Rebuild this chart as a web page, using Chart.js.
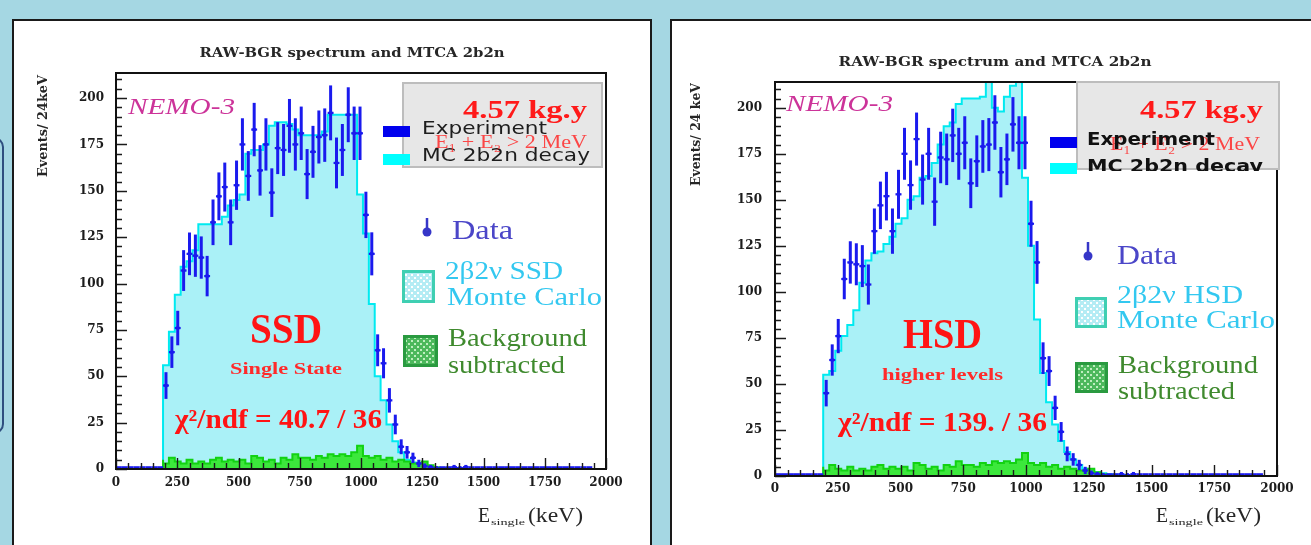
<!DOCTYPE html>
<html><head><meta charset="utf-8">
<script src="https://cdn.jsdelivr.net/npm/chart.js@4.4.0/dist/chart.umd.min.js"></script>
<style>
html,body{margin:0;padding:0;width:1311px;height:545px;overflow:hidden;background:#a5d7e3;}
.card{position:absolute;background:#fff;border:2px solid #1a1a1a;box-sizing:border-box;}
#c1{left:12px;top:19px;width:640px;height:560px;}
#c2{left:670px;top:19px;width:660px;height:560px;}
.side{position:absolute;left:-20px;top:137px;width:24px;height:297px;border:2px solid #2f4f7f;border-radius:10px;box-sizing:border-box;}
canvas{position:absolute;}
#cv1{left:14px;top:21px;}
#cv2{left:672px;top:22px;}
</style></head><body>
<div class="side"></div>
<div class="card" id="c1"></div>
<div class="card" id="c2"></div>
<canvas id="cv1" width="634" height="524"></canvas>
<canvas id="cv2" width="639" height="523"></canvas>
<script>
// ---------- data (bins of 24 keV starting at 0 keV) ----------
const BIN_WIDTH = 24;
const binLowEdges = Array.from({length: 83}, (_, i) => i * BIN_WIDTH);
const xTickValues = [0, 250, 500, 750, 1000, 1250, 1500, 1750, 2000];
const yTickValues = [0, 25, 50, 75, 100, 125, 150, 175, 200];

// Experiment (background subtracted data), events per bin
const dataCounts = [
 0,0,0,0,0,0,0,0,
 45,63,76,107,116,115,114,104,133,147,
 152,133,153,175,158,183,161,175,149,173,
 172,185,175,181,159,171,179,180,192,165,
 172,191,181,181,137,116,64,57,37,24,
 12,9,6,3,1.5,1,0.5,0,0,1,
 0.5,1,0,0,0,0,0,0,0,0,
 0,0,0,0,0,0,0,0,0,0,
 0,0,0];
const dataErrors = [
 0,0,0,0,0,0,0,0,
 7.2,8.5,9.3,11,11.5,11.4,11.4,10.9,12.3,12.9,
 13.2,12.3,13.3,14.1,13.4,14.4,13.6,14.1,13.1,14.0,
 14.0,14.5,14.1,14.4,13.5,14.0,14.3,14.4,14.8,13.7,
 14.0,14.8,14.4,14.4,12.5,11.6,8.6,8.1,6.6,5.3,
 4.0,3.4,2.8,2.0,1.5,1.2,0.9,0,0,1.2,
 0.9,1.2,0,0,0,0,0,0,0,0,
 0,0,0,0,0,0,0,0,0,0,
 0,0,0];
// Monte Carlo 2b2n, single state dominance
const mcSSD = [
 0,0,0,0,0,0,0,0,
 40,56,74,94,109,112,118,132,132,132,
 132,136,142,145,148,170,172,172,175,185,
 187,187,186,183,180,180,180,180,182,191,
 191,191,191,191,148,127,89,50,37,24,
 15,9,5,3.5,2.5,1.5,1,0.6,0.4,0.2,
 0.1,0,0,0,0,0,0,0,0,0,
 0,0,0,0,0,0,0,0,0,0,
 0,0,0];
// Monte Carlo 2b2n, higher state dominance
const mcHSD = [
 0,0,0,0,0,0,0,0,
 30,55,57,68,76,82,90,105,117,121,
 122,126,130,137,140,150,152,162,163,170,
 180,190,192,202,205,205,205,206,216,200,
 198,206,212,216,162,125,85,56,40,28,
 19,13,9,6,4,3,2,1.5,1,0.7,
 0.5,0.3,0,0,0,0,0,0,0,0,
 0,0,0,0,0,0,0,0,0,0,
 0,0,0];
// subtracted background
const background = [
 0,0,0,0,0,0,0,0,
 5,3,6,4,3,5,3,4,3,5,
 6,4,5,4,5,3,7,6,4,5,
 3,6,5,8,6,6,5,7,6,8,
 7,8,7,9,12.5,7,6,7,5,6,
 4,5,4,3,3,4,2,1,0.5,0,
 0,0,0,0,0,0,0,0,0,0,
 0,0,0,0,0,0,0,0,0,0,
 0,0,0];

// ---------- helpers ----------
function histPoints(vals){
  const first = vals.findIndex(v => v > 0);
  let last = vals.length - 1; while (last > 0 && vals[last] <= 0) last--;
  const pts = [{x: binLowEdges[first], y: 0}];
  for (let i = first; i <= last; i++) pts.push({x: binLowEdges[i], y: vals[i]});
  pts.push({x: binLowEdges[last] + BIN_WIDTH, y: 0});
  return pts;
}
function makePattern(ctx, bg, dot){
  const c = document.createElement('canvas'); c.width = c.height = 6;
  const g = c.getContext('2d');
  g.fillStyle = bg; g.fillRect(0,0,6,6);
  g.fillStyle = dot; g.fillRect(1,1,2,2); g.fillRect(4,4,2,2);
  return ctx.createPattern(c, 'repeat');
}
const DATA_COLOR = '#1a1aee';

const hepPlugin = {
  id: 'hep',
  afterDatasetsDraw(chart, args, o){
    const {ctx, chartArea: a, scales: {x, y}} = chart;
    ctx.save();
    ctx.beginPath(); ctx.rect(a.left, a.top - 1, a.width, a.height + 1); ctx.clip();
    chart.data.datasets.forEach(ds => {
      if (!ds.errors) return;
      ctx.strokeStyle = DATA_COLOR;
      ds.data.forEach((p, i) => {
        const e = ds.errors[i];
        const yc = p.y > 0 ? y.getPixelForValue(p.y) : a.bottom - 1.5;
        ctx.lineWidth = p.y > 0 ? 2.2 : 2.6;
        ctx.beginPath();
        ctx.moveTo(x.getPixelForValue(p.x - BIN_WIDTH/2), yc);
        ctx.lineTo(x.getPixelForValue(p.x + BIN_WIDTH/2), yc);
        ctx.stroke();
        if (e > 0) {
          ctx.lineWidth = 3;
          ctx.beginPath();
          ctx.moveTo(x.getPixelForValue(p.x), y.getPixelForValue(p.y - e));
          ctx.lineTo(x.getPixelForValue(p.x), y.getPixelForValue(p.y + e));
          ctx.stroke();
        }
      });
    });
    ctx.restore();
    // ticks (inward, ROOT style) and frame
    ctx.save();
    ctx.strokeStyle = '#1a1a1a'; ctx.lineWidth = 1.4;
    ctx.beginPath();
    for (let v = 0; v <= 2000; v += 50) {
      const px = Math.round(x.getPixelForValue(v)) + 0.5;
      const len = (v % 250 === 0) ? 11 : 6;
      ctx.moveTo(px, a.bottom); ctx.lineTo(px, a.bottom - len);
    }
    for (let v = 0; v <= o.yMax; v += 5) {
      const py = Math.round(y.getPixelForValue(v)) + 0.5;
      const len = (v % 25 === 0) ? 11 : 6;
      ctx.moveTo(a.left, py); ctx.lineTo(a.left + len, py);
    }
    ctx.stroke();
    ctx.lineWidth = 2; ctx.strokeStyle = '#111';
    ctx.strokeRect(a.left, a.top, a.width, a.height);
    ctx.restore();
  },
  afterDraw(chart, args, o){
    const ctx = chart.ctx; const ox = o.ox, oy = o.oy;
    o.ops.forEach(op => {
      ctx.save();
      if (op.k === 'rect') {
        ctx.fillStyle = op.fill; ctx.fillRect(op.x - ox, op.y - oy, op.w, op.h);
        if (op.stroke) { ctx.strokeStyle = op.stroke; ctx.lineWidth = op.lw || 2; ctx.strokeRect(op.x - ox, op.y - oy, op.w, op.h); }
      } else if (op.k === 'pbox') {
        ctx.fillStyle = makePattern(ctx, op.bg, op.dot);
        ctx.fillRect(op.x - ox, op.y - oy, op.w, op.h);
        ctx.strokeStyle = op.stroke; ctx.lineWidth = 3;
        ctx.strokeRect(op.x - ox + 1.5, op.y - oy + 1.5, op.w - 3, op.h - 3);
      } else if (op.k === 'marker') {
        ctx.strokeStyle = op.c; ctx.fillStyle = op.c; ctx.lineWidth = 2.5;
        ctx.beginPath(); ctx.moveTo(op.x - ox, op.y - oy - 14); ctx.lineTo(op.x - ox, op.y - oy); ctx.stroke();
        ctx.beginPath(); ctx.arc(op.x - ox, op.y - oy, 4.5, 0, Math.PI * 2); ctx.fill();
      } else if (op.k === 'text') {
        if (op.clipY) { ctx.beginPath(); ctx.rect(0, 0, chart.width, op.clipY - oy); ctx.clip(); }
        ctx.font = op.f; ctx.fillStyle = op.c; ctx.textBaseline = 'middle';
        ctx.textAlign = op.a || 'left';
        const w = ctx.measureText(op.t).width;
        const sx = op.w ? op.w / w : 1;
        ctx.translate(op.x - ox, op.y - oy);
        if (op.rot) ctx.rotate(-Math.PI / 2);
        ctx.scale(sx, 1);
        ctx.fillText(op.t, 0, 0);
      }
      ctx.restore();
    });
  }
};

const serif = '"Liberation Serif", "DejaVu Serif", serif';
const tickFont = {family: '"DejaVu Serif", serif', weight: 'bold', size: 12};

function commonOps(p){
  return [
    {k:'text', t:'RAW-BGR spectrum and MTCA 2b2n', x:p.titleX, y:p.titleY, f:'bold 12px "DejaVu Serif"', c:'#262626', a:'center', w:p.titleW},
    {k:'text', t:p.yTitle, x:p.yTitleX, y:p.yTitleTop, f:'bold 12px "DejaVu Serif"', c:'#262626', a:'right', w:p.yTitleW, rot:true},
    {k:'text', t:'E', x:p.exX, y:516, f:'21px ' + serif, c:'#262626', w:12},
    {k:'text', t:'single', x:p.exX + 13, y:523, f:'9px ' + serif, c:'#262626', w:34},
    {k:'text', t:'(keV)', x:p.exX + 50, y:516, f:'21px ' + serif, c:'#262626', w:55},
    {k:'text', t:'NEMO-3', x:p.nemoX, y:p.nemoY, f:'italic 23px ' + serif, c:'#cc3399', w:107},
    {k:'text', t:p.big, x:p.bigX, y:p.bigY, f:'bold 42px ' + serif, c:'#ff1414', a:'center', w:p.bigW},
    {k:'text', t:p.sub, x:p.bigX, y:p.subY, f:'bold 17px ' + serif, c:'#ff2a2a', a:'center', w:p.subW},
    {k:'text', t:p.chi, x:p.chiX, y:p.chiY, f:'bold 27px ' + serif, c:'#ff1414', w:p.chiW},
  ];
}

const leftOps = commonOps({
  titleX:352, titleY:54, titleW:305, yTitle:'Events/ 24keV', yTitleX:44, yTitleTop:75, yTitleW:102,
  exX:478, nemoX:128, nemoY:108, big:'SSD', bigX:286, bigY:332, bigW:72, sub:'Single State', subY:370, subW:112,
  chi:'χ²/ndf = 40.7 / 36', chiX:175, chiY:421, chiW:207
}).concat([
  {k:'rect', x:403, y:83, w:199, h:84, fill:'#e7e7e7', stroke:'#bdbdbd', lw:2},
  {k:'text', t:'4.57 kg.y', x:463, y:111, f:'bold 26px ' + serif, c:'#ff1a1a', w:124},
  {k:'rect', x:383, y:126, w:27, h:11, fill:'#0000ee'},
  {k:'rect', x:383, y:154, w:27, h:11, fill:'#00ffff'},
  {k:'text', t:'Experiment', x:422, y:130, f:'17px "DejaVu Sans"', c:'#1e1e1e', w:125},
  {k:'text', t:'MC 2b2n decay', x:422, y:157, f:'17px "DejaVu Sans"', c:'#1e1e1e', w:168},
  {k:'text', t:'E₁ + E₂ > 2 MeV', x:435, y:143, f:'18px ' + serif, c:'rgba(255,40,40,0.85)', w:152},
  {k:'marker', x:427, y:232, c:'#3636c8'},
  {k:'text', t:'Data', x:452, y:232, f:'28px ' + serif, c:'#4b46c8', w:61},
  {k:'pbox', x:402, y:270, w:33, h:33, bg:'#b4ecf4', dot:'#ffffff', stroke:'#3fcfb2'},
  {k:'text', t:'2β2ν SSD', x:445, y:272, f:'26px ' + serif, c:'#33c8f0', w:118},
  {k:'text', t:'Monte Carlo', x:447, y:298, f:'26px ' + serif, c:'#33c8f0', w:155},
  {k:'pbox', x:403, y:335, w:35, h:32, bg:'#4cb85c', dot:'#bfeebf', stroke:'#2a9a40'},
  {k:'text', t:'Background', x:448, y:339, f:'26px ' + serif, c:'#3f8a2e', w:139},
  {k:'text', t:'subtracted', x:448, y:366, f:'26px ' + serif, c:'#3f8a2e', w:117},
]);

const rightOps = commonOps({
  titleX:995, titleY:62.5, titleW:313, yTitle:'Events/ 24 keV', yTitleX:697, yTitleTop:83, yTitleW:103,
  exX:1156, nemoX:786, nemoY:105, big:'HSD', bigX:942.5, bigY:337, bigW:79, sub:'higher levels', subY:376, subW:121,
  chi:'χ²/ndf = 139. / 36', chiX:838, chiY:424, chiW:209
}).concat([
  {k:'rect', x:1077, y:82, w:202, h:87, fill:'#e7e7e7', stroke:'#bdbdbd', lw:2},
  {k:'text', t:'4.57 kg.y', x:1140, y:111, f:'bold 26px ' + serif, c:'#ff1a1a', w:123},
  {k:'text', t:'E₁ + E₂ > 2 MeV', x:1110, y:145, f:'18px ' + serif, c:'rgba(255,40,40,0.85)', w:150},
  {k:'rect', x:1050, y:137, w:27, h:11, fill:'#0000ee'},
  {k:'rect', x:1050, y:163, w:27, h:11, fill:'#00ffff'},
  {k:'text', t:'Experiment', x:1087, y:141, f:'bold 17px "DejaVu Sans"', c:'#111', w:128},
  {k:'text', t:'MC 2b2n decay', x:1087, y:168, f:'bold 17px "DejaVu Sans"', c:'#111', w:176, clipY:171},
  {k:'marker', x:1088, y:256, c:'#3636c8'},
  {k:'text', t:'Data', x:1117, y:257, f:'28px ' + serif, c:'#4b46c8', w:60},
  {k:'pbox', x:1075, y:297, w:32, h:31, bg:'#b4ecf4', dot:'#ffffff', stroke:'#3fcfb2'},
  {k:'text', t:'2β2ν HSD', x:1117, y:296, f:'26px ' + serif, c:'#33c8f0', w:126},
  {k:'text', t:'Monte Carlo', x:1117, y:321, f:'26px ' + serif, c:'#33c8f0', w:158},
  {k:'pbox', x:1075, y:362, w:33, h:31, bg:'#4cb85c', dot:'#bfeebf', stroke:'#2a9a40'},
  {k:'text', t:'Background', x:1118, y:366, f:'26px ' + serif, c:'#3f8a2e', w:140},
  {k:'text', t:'subtracted', x:1118, y:392, f:'26px ' + serif, c:'#3f8a2e', w:117},
]);

function buildChart(id, mcValues, cfg){
  const ctx = document.getElementById(id).getContext('2d');
  return new Chart(ctx, {
    type: 'line',
    data: {
      datasets: [
        { label: 'Experiment', data: dataCounts.map((v, i) => ({x: binLowEdges[i] + BIN_WIDTH/2, y: v})),
          errors: dataErrors, showLine: false, order: 0,
          pointRadius: c => (c.raw && c.raw.y > 0) ? 2 : 0, pointBackgroundColor: DATA_COLOR,
          pointBorderWidth: 0 },
        { label: 'Background subtracted', data: histPoints(background), stepped: 'after', order: 1,
          borderColor: '#12d212', borderWidth: 2, backgroundColor: '#3ce83c', fill: 'origin', pointRadius: 0 },
        { label: 'MC 2b2n decay', data: histPoints(mcValues), stepped: 'after', order: 2,
          borderColor: '#00eaf0', borderWidth: 2, backgroundColor: '#aaf1f7', fill: 'origin', pointRadius: 0 }
      ]
    },
    options: {
      responsive: false, animation: false, devicePixelRatio: 1,
      layout: {padding: {left: 0, top: cfg.top, right: cfg.right, bottom: 0}},
      plugins: {legend: {display: false}, tooltip: {enabled: false}, title: {display: false},
        hep: {ox: cfg.ox, oy: cfg.oy, yMax: cfg.yMax, ops: cfg.ops}},
      scales: {
        x: {type: 'linear', min: 0, max: 2000,
          grid: {display: false, drawTicks: false}, border: {display: false},
          afterBuildTicks: s => { s.ticks = xTickValues.map(v => ({value: v})); },
          ticks: {autoSkip: false, maxRotation: 0, padding: cfg.xPad, font: tickFont, color: '#1c1c1c',
            callback: v => String(v)},
          afterFit: s => { s.height = cfg.xH; }},
        y: {type: 'linear', min: 0, max: cfg.yMax,
          grid: {display: false, drawTicks: false}, border: {display: false},
          afterBuildTicks: s => { s.ticks = yTickValues.map(v => ({value: v})); },
          ticks: {autoSkip: false, padding: cfg.yPad, font: tickFont, color: '#1c1c1c',
            callback: v => String(v)},
          afterFit: s => { s.width = cfg.yW; }}
      }
    },
    plugins: [hepPlugin]
  });
}

buildChart('cv1', mcSSD, {ox: 14, oy: 21, top: 52, right: 42, yW: 102, xH: 76, yPad: 12, xPad: 7, yMax: 213.5, ops: leftOps});
buildChart('cv2', mcHSD, {ox: 672, oy: 22, top: 60, right: 34, yW: 103, xH: 69, yPad: 13, xPad: 6, yMax: 214, ops: rightOps});
</script>
</body></html>
